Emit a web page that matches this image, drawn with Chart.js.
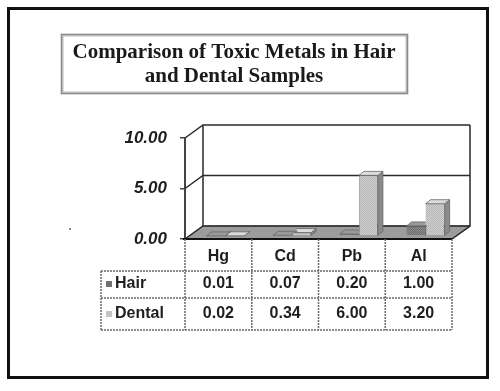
<!DOCTYPE html>
<html>
<head>
<meta charset="utf-8">
<script src="https://cdn.jsdelivr.net/npm/chart.js@4/dist/chart.umd.min.js"></script>
<style>
  html, body { margin: 0; padding: 0; background: #fff; }
  #wrap { width: 500px; height: 391px; }
</style>
</head>
<body>
<div id="wrap"><canvas id="chart" width="500" height="391"></canvas></div>
<script>
const categories = ['Hg', 'Cd', 'Pb', 'Al'];
const seriesNames = ['Hair', 'Dental'];
const hairValues = [0.01, 0.07, 0.20, 1.00];
const dentalValues = [0.02, 0.34, 6.00, 3.20];
const yTicks = [0, 5, 10];
const titleLines = ['Comparison of Toxic Metals in Hair', 'and Dental Samples'];

// 3D look
const DEPTH_X = 18, DEPTH_Y = -13;   // wall depth
const BAR_DX = 7, BAR_DY = -3;       // bars sit a bit behind the front plane
const BAR_SX = 5, BAR_SY = -4;       // bar depth

function checker(a, b) {
  const c = document.createElement('canvas');
  c.width = 2; c.height = 2;
  const g = c.getContext('2d');
  g.fillStyle = a; g.fillRect(0, 0, 2, 2);
  g.fillStyle = b; g.fillRect(0, 0, 1, 1); g.fillRect(1, 1, 1, 1);
  return g.createPattern(c, 'repeat');
}

const ctx0 = document.getElementById('chart').getContext('2d');
const hairFill = checker('#8e8e8e', '#6c6c6c');
const dentalFill = checker('#d2d2d2', '#b4b4b4');
const faces = [
  { side: '#555', top: '#9a9a9a' },
  { side: '#8a8a8a', top: '#dcdcdc' }
];
const keyColors = ['#707070', '#c4c4c4'];

function poly(ctx, pts, fill, stroke, lw) {
  ctx.beginPath();
  pts.forEach((p, i) => i ? ctx.lineTo(p[0], p[1]) : ctx.moveTo(p[0], p[1]));
  ctx.closePath();
  if (fill) { ctx.fillStyle = fill; ctx.fill(); }
  if (stroke) { ctx.strokeStyle = stroke; ctx.lineWidth = lw || 1; ctx.stroke(); }
}

function barBox(el) {
  const p = el.getProps(['x', 'y', 'base', 'width'], true);
  return { l: p.x - p.width / 2, r: p.x + p.width / 2, t: p.y, b: p.base };
}

const chart3d = {
  id: 'chart3d',
  beforeDraw(chart) {
    const ctx = chart.ctx;
    ctx.save();
    ctx.fillStyle = '#fff';
    ctx.fillRect(0, 0, chart.width, chart.height);
    // outer frame
    ctx.strokeStyle = '#111';
    ctx.lineWidth = 3;
    ctx.strokeRect(8.5, 8.5, 479, 369);
    // title box
    ctx.strokeStyle = '#bbb';
    ctx.lineWidth = 3;
    ctx.strokeRect(62, 35, 345, 58);
    ctx.strokeStyle = '#888';
    ctx.lineWidth = 1;
    ctx.strokeRect(61.5, 34.5, 346, 59);
    ctx.fillStyle = '#1a1a1a';
    ctx.font = 'bold 21px "Liberation Serif", "Times New Roman", serif';
    ctx.textAlign = 'center';
    ctx.textBaseline = 'middle';
    ctx.fillText(titleLines[0], 234, 53);
    ctx.fillText(titleLines[1], 234, 77);
    // stray dot
    ctx.fillStyle = '#888';
    ctx.fillRect(69, 228, 2, 2);
    ctx.restore();
  },
  beforeDatasetsDraw(chart) {
    const ctx = chart.ctx;
    const a = chart.chartArea;
    const y = chart.scales.y;
    const L = a.left, R = a.right, B = a.bottom, T = a.top;
    ctx.save();
    // floor
    poly(ctx, [[L, B], [R, B], [R + DEPTH_X, B + DEPTH_Y], [L + DEPTH_X, B + DEPTH_Y]], '#9c9c9c', '#555', 1);
    // walls: grid lines front-left -> back-left -> back-right
    ctx.strokeStyle = '#2a2a2a';
    ctx.lineWidth = 1.5;
    yTicks.forEach(v => {
      const py = y.getPixelForValue(v);
      ctx.beginPath();
      ctx.moveTo(L, py);
      ctx.lineTo(L + DEPTH_X, py + DEPTH_Y);
      ctx.lineTo(R + DEPTH_X, py + DEPTH_Y);
      ctx.stroke();
    });
    ctx.beginPath();
    ctx.moveTo(L + DEPTH_X, T + DEPTH_Y);
    ctx.lineTo(L + DEPTH_X, B + DEPTH_Y);
    ctx.moveTo(R + DEPTH_X, T + DEPTH_Y);
    ctx.lineTo(R + DEPTH_X, B + DEPTH_Y);
    ctx.lineTo(R, B);
    ctx.stroke();
    // front floor edge
    ctx.strokeStyle = '#111';
    ctx.lineWidth = 2;
    ctx.beginPath();
    ctx.moveTo(L - 2, B);
    ctx.lineTo(R, B);
    ctx.stroke();
    ctx.restore();
    ctx.save();
    ctx.translate(BAR_DX, BAR_DY);
  },
  afterDatasetDraw(chart, args) {
    const ctx = chart.ctx;
    const f = faces[args.index];
    // Chart.js draws the last dataset first, so the hair side faces must not cover the dental fronts
    const cover = args.index === 0 ? chart.getDatasetMeta(1).data : null;
    args.meta.data.forEach((el, i) => {
      const p = barBox(el);
      ctx.save();
      if (cover) {
        const q = barBox(cover[i]);
        ctx.beginPath();
        ctx.rect(-50, -50, chart.width + 100, chart.height + 100);
        ctx.rect(q.l, Math.min(q.t, q.b), q.r - q.l, Math.abs(q.b - q.t));
        ctx.clip('evenodd');
      }
      poly(ctx, [[p.r, p.t], [p.r + BAR_SX, p.t + BAR_SY], [p.r + BAR_SX, p.b + BAR_SY], [p.r, p.b]], f.side, '#666', 0.8);
      poly(ctx, [[p.l, p.t], [p.l + BAR_SX, p.t + BAR_SY], [p.r + BAR_SX, p.t + BAR_SY], [p.r, p.t]], f.top, '#666', 0.8);
      ctx.restore();
    });
  },
  afterDatasetsDraw(chart) {
    chart.ctx.restore();
  },
  afterDraw(chart) {
    const ctx = chart.ctx;
    const x = chart.scales.x;
    const a = chart.chartArea;
    const half = (a.right - a.left) / categories.length / 2;
    const cols = categories.map((c, i) => x.getPixelForValue(i));
    const rowTop = a.bottom, row1 = 271, row2 = 298, row3 = 330, leftX = 101;
    ctx.save();
    ctx.strokeStyle = '#6a6a6a';
    ctx.lineWidth = 1.5;
    ctx.setLineDash([2, 1]);
    ctx.beginPath();
    // verticals
    cols.forEach(cx => { ctx.moveTo(cx - half, rowTop); ctx.lineTo(cx - half, row3); });
    ctx.moveTo(a.right, rowTop); ctx.lineTo(a.right, row3);
    ctx.moveTo(leftX, row1); ctx.lineTo(leftX, row3);
    // horizontals
    [row1, row2, row3].forEach(ry => { ctx.moveTo(leftX, ry); ctx.lineTo(a.right, ry); });
    ctx.stroke();
    ctx.setLineDash([]);
    ctx.fillStyle = '#1e1e1e';
    ctx.font = 'bold 16px "Liberation Sans", Arial, sans-serif';
    ctx.textAlign = 'center';
    ctx.textBaseline = 'middle';
    categories.forEach((c, i) => ctx.fillText(c, cols[i], 257));
    [hairValues, dentalValues].forEach((vals, s) => {
      const ry = s === 0 ? 284 : 314;
      vals.forEach((v, i) => ctx.fillText(v.toFixed(2), cols[i], ry));
      ctx.fillStyle = keyColors[s];
      ctx.fillRect(106, ry - 3, 6, 6);
      ctx.fillStyle = '#1e1e1e';
      ctx.textAlign = 'left';
      ctx.fillText(seriesNames[s], 115, ry);
      ctx.textAlign = 'center';
    });
    ctx.restore();
  }
};

new Chart(ctx0, {
  type: 'bar',
  data: {
    labels: categories,
    datasets: [
      { label: seriesNames[0], data: hairValues, backgroundColor: hairFill, borderColor: '#666', borderWidth: 0.8, clip: false },
      { label: seriesNames[1], data: dentalValues, backgroundColor: dentalFill, borderColor: '#777', borderWidth: 0.8, clip: false }
    ]
  },
  plugins: [chart3d],
  options: {
    responsive: false,
    animation: false,
    layout: { padding: { left: 125, right: 48, top: 138, bottom: 152 } },
    datasets: { bar: { categoryPercentage: 0.57, barPercentage: 1 } },
    plugins: { legend: { display: false }, tooltip: { enabled: false }, title: { display: false } },
    scales: {
      x: { display: false },
      y: {
        min: 0, max: 10,
        afterFit: s => { s.width = 60; },
        afterBuildTicks: s => { s.ticks = yTicks.map(v => ({ value: v })); },
        border: { display: true, color: '#444', width: 2 },
        grid: { drawOnChartArea: false, drawTicks: true, tickLength: 5, color: '#444', lineWidth: 1.5 },
        ticks: {
          padding: 13,
          color: '#1e1e1e',
          font: { family: '"Liberation Sans", Arial, sans-serif', size: 17, weight: 'bold', style: 'italic' },
          callback: v => v.toFixed(2)
        }
      }
    }
  }
});
</script>
</body>
</html>
